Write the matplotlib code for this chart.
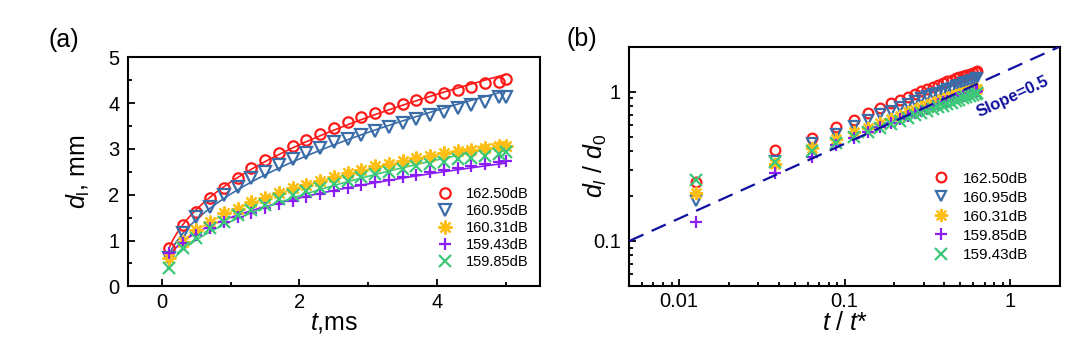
import numpy as np
import matplotlib
matplotlib.use('Agg')
import matplotlib.pyplot as plt
from matplotlib.ticker import MultipleLocator, LogLocator, FuncFormatter, NullFormatter

plt.rcParams['font.family'] = ['Liberation Sans', 'DejaVu Sans']
plt.rcParams['mathtext.fontset'] = 'custom'
plt.rcParams['mathtext.rm'] = 'Liberation Sans'
plt.rcParams['mathtext.it'] = 'Liberation Sans:italic'

# ---------------- data ----------------
t_ms = [0.1, 0.3, 0.5, 0.7, 0.9, 1.1, 1.3, 1.5, 1.7, 1.9, 2.1, 2.3, 2.5,
        2.7, 2.9, 3.1, 3.3, 3.5, 3.7, 3.9, 4.1, 4.3, 4.5, 4.7, 4.9, 5.0]

d_16250 = [0.83, 1.34, 1.63, 1.92, 2.14, 2.37, 2.58, 2.76, 2.92, 3.06, 3.19, 3.33, 3.46,
           3.58, 3.69, 3.79, 3.89, 3.98, 4.07, 4.14, 4.23, 4.29, 4.36, 4.43, 4.47, 4.52]
d_16095 = [0.62, 1.16, 1.52, 1.74, 1.99, 2.17, 2.36, 2.50, 2.65, 2.79, 2.92, 3.03, 3.14,
           3.22, 3.30, 3.39, 3.48, 3.56, 3.65, 3.74, 3.81, 3.89, 3.96, 4.03, 4.14, 4.13]
d_16031 = [0.62, 0.97, 1.23, 1.41, 1.59, 1.68, 1.83, 1.93, 2.03, 2.14, 2.21, 2.31, 2.39,
           2.47, 2.55, 2.62, 2.68, 2.74, 2.80, 2.85, 2.90, 2.95, 2.98, 3.02, 3.06, 3.07]
d_15943 = [0.72, 0.95, 1.13, 1.28, 1.40, 1.52, 1.61, 1.70, 1.79, 1.87, 1.95, 2.02, 2.08,
           2.15, 2.21, 2.27, 2.33, 2.38, 2.44, 2.49, 2.54, 2.58, 2.63, 2.67, 2.72, 2.74]
d_15985 = [0.39, 0.83, 1.05, 1.27, 1.41, 1.56, 1.67, 1.78, 1.90, 1.99, 2.08, 2.15, 2.23,
           2.31, 2.38, 2.45, 2.50, 2.56, 2.62, 2.67, 2.72, 2.77, 2.81, 2.85, 2.89, 2.93]

# normalisation constants for panel (b)
t_star = 7.9
d0_16250 = 3.32
d0_16095 = 3.36
d0_16031 = 2.95
d0_15985 = 2.90
d0_15943 = 2.82

labels_a = ['162.50dB', '160.95dB', '160.31dB', '159.43dB', '159.85dB']
labels_b = ['162.50dB', '160.95dB', '160.31dB', '159.85dB', '159.43dB']

# reference line in (b): slope 0.5 through (0.005, 0.1)
ref_slope = 0.5
ref_x0, ref_y0 = 0.005, 0.1
ref_x1 = 2.0

# ---------------- styles ----------------
colors = ['#FF1A1A', '#3A6DA8', '#FFBE14', '#8A1EF5', '#3CC878']
markers = ['o', 'v', (8, 2, 0), '+', 'x']
msize_a = [7.5, 8, 10, 9, 9]
msize_b = [7, 7.5, 9.5, 8.5, 8.5]

fig = plt.figure(figsize=(10.8, 3.53), dpi=100)
W, H = 1080, 353
ax1 = fig.add_axes([127.7 / W, 1 - 286.3 / H, (540 - 127.7) / W, (286.3 - 57.3) / H])
ax2 = fig.add_axes([629.3 / W, 1 - 286.0 / H, (1060 - 629.3) / W, (286.0 - 46.5) / H])

t = np.array(t_ms)
series_a = [d_16250, d_16095, d_16031, d_15943, d_15985]

# ---------- panel (a) ----------
tfit = np.linspace(t[0], t[-1], 200)
for d, c, m, ms, lab in zip(series_a, colors, markers, msize_a, labels_a):
    d = np.array(d)
    n, loga = np.polyfit(np.log(t), np.log(d), 1)
    ax1.plot(tfit, np.exp(loga) * tfit ** n, color=c, lw=1.2, zorder=2)
    ax1.plot(t, d, linestyle='none', marker=m, ms=ms, mfc='none', mec=c,
             mew=1.6, label=lab, zorder=3)

ax1.set_xlim(-0.5, 5.5)
ax1.set_ylim(0, 5)
ax1.xaxis.set_major_locator(MultipleLocator(2))
ax1.xaxis.set_minor_locator(MultipleLocator(1))
ax1.yaxis.set_major_locator(MultipleLocator(1))
ax1.yaxis.set_minor_locator(MultipleLocator(0.5))
ax1.set_xlabel(r'$t$,ms', fontsize=18)
ax1.set_ylabel(r'$d_\mathrm{l}$, mm', fontsize=18)
ax1.xaxis.set_label_coords(0.5, -0.11)
ax1.yaxis.set_label_coords(-0.086, 0.5)
ax1.legend(loc='upper left', bbox_to_anchor=(0.745, 0.445), frameon=False,
           fontsize=10.5, handlelength=1.0, handletextpad=0.9, labelspacing=0.2,
           borderpad=0.2, borderaxespad=0)

# ---------- panel (b) ----------
series_b = [np.array(d_16250) / d0_16250,
            np.array(d_16095) / d0_16095,
            np.array(d_16031) / d0_16031,
            np.array(d_15985) / d0_15985,
            np.array(d_15943) / d0_15943]
xb = t / t_star
for d, c, m, ms, lab in zip(series_b, colors, markers, msize_b, labels_b):
    ax2.plot(xb, d, linestyle='none', marker=m, ms=ms, mfc='none', mec=c,
             mew=1.6, label=lab, zorder=3)

xr = np.array([ref_x0, ref_x1])
yr = ref_y0 * (xr / ref_x0) ** ref_slope
ax2.plot(xr, yr, color='#1010A0', lw=1.6, dashes=(7, 4), zorder=4)
ax2.text(1.03, 0.92, 'Slope=0.5', color='#1010A0', fontsize=12, fontweight='bold',
         rotation=25, ha='center', va='center', zorder=5)

ax2.set_xscale('log')
ax2.set_yscale('log')
ax2.set_xlim(0.005, 2)
ax2.set_ylim(0.05, 2)
fmt = FuncFormatter(lambda v, p: ('%g' % v))
ax2.xaxis.set_major_locator(LogLocator(base=10, numticks=10))
ax2.yaxis.set_major_locator(LogLocator(base=10, numticks=10))
ax2.xaxis.set_minor_locator(LogLocator(base=10, subs=np.arange(2, 10), numticks=20))
ax2.yaxis.set_minor_locator(LogLocator(base=10, subs=np.arange(2, 10), numticks=20))
ax2.xaxis.set_major_formatter(fmt)
ax2.yaxis.set_major_formatter(fmt)
ax2.xaxis.set_minor_formatter(NullFormatter())
ax2.yaxis.set_minor_formatter(NullFormatter())
ax2.set_xlabel(r'$t\ /\ t$*', fontsize=18)
ax2.set_ylabel(r'$d_l\ /\ d_0$', fontsize=18)
ax2.xaxis.set_label_coords(0.5, -0.105)
ax2.yaxis.set_label_coords(-0.047, 0.5)
ax2.legend(loc='upper left', bbox_to_anchor=(0.7, 0.49), frameon=False,
           fontsize=11, handlelength=1.0, handletextpad=0.9, labelspacing=0.33,
           borderpad=0.2, borderaxespad=0)

for ax in (ax1, ax2):
    for s in ax.spines.values():
        s.set_linewidth(1.5)
    ax.tick_params(which='both', direction='in', top=False, right=False, width=1.3,
                   labelsize=14.5)
    ax.tick_params(which='major', length=5)
    ax.tick_params(which='minor', length=3)
    ax.tick_params(axis='x', pad=4.5)
    ax.tick_params(axis='y', pad=6)

fig.text(64 / W, 1 - 40 / H, '(a)', fontsize=18, ha='center', va='center')
fig.text(582 / W, 1 - 39 / H, '(b)', fontsize=18, ha='center', va='center')

fig.savefig('out.png', dpi=100)
